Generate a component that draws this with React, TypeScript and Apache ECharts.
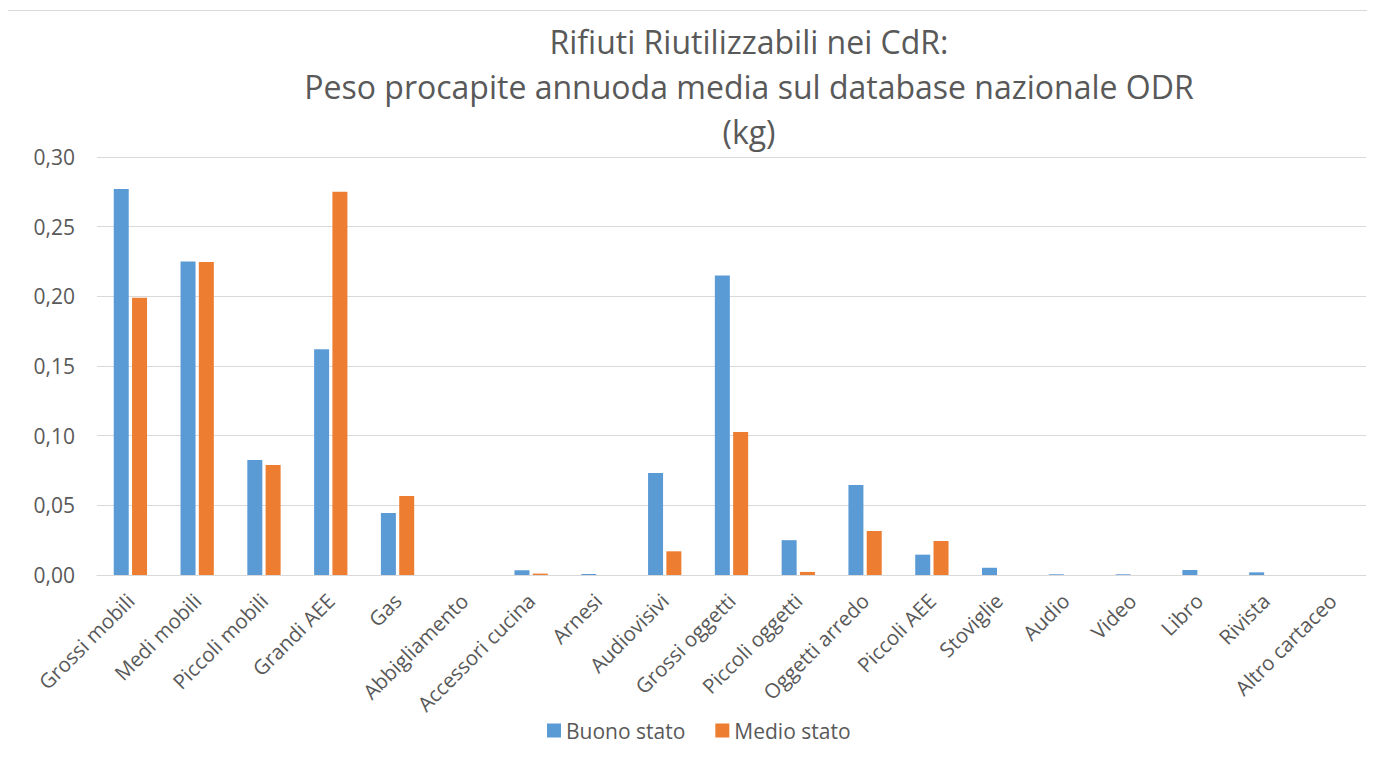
import React, { useEffect, useRef } from "react";
import * as echarts from "echarts";

const categories = [
  "Grossi mobili",
  "Medi mobili",
  "Piccoli mobili",
  "Grandi AEE",
  "Gas",
  "Abbigliamento",
  "Accessori cucina",
  "Arnesi",
  "Audiovisivi",
  "Grossi oggetti",
  "Piccoli oggetti",
  "Oggetti arredo",
  "Piccoli AEE",
  "Stoviglie",
  "Audio",
  "Video",
  "Libro",
  "Rivista",
  "Altro cartaceo",
];

const buonoStato = [
  0.277, 0.225, 0.0826, 0.162, 0.0445, 0, 0.0034, 0.0007, 0.0732, 0.215,
  0.025, 0.0646, 0.0146, 0.0052, 0.0005, 0.0005, 0.0036, 0.0019, 0,
];

const medioStato = [
  0.199, 0.2247, 0.079, 0.275, 0.0567, 0, 0.001, 0, 0.017, 0.1027, 0.0022,
  0.0316, 0.0244, 0, 0, 0, 0, 0, 0,
];

const titleLines = [
  "Rifiuti Riutilizzabili nei CdR:",
  "Peso procapite annuoda media sul database nazionale ODR",
  "(kg)",
];

const FONT = "'Open Sans', 'Noto Sans', sans-serif";
const TEXT = "#595959";

export default function App() {
  const ref = useRef<HTMLDivElement>(null);

  useEffect(() => {
    if (!ref.current) return;
    const chart = echarts.init(ref.current, null, { renderer: "svg" });
    chart.setOption({
      animation: false,
      textStyle: { fontFamily: FONT },
      title: {
        text: titleLines.join("\n"),
        left: 737,
        top: 6,
        textAlign: "center",
        textStyle: {
          fontFamily: FONT,
          fontSize: 32,
          fontWeight: "normal",
          color: TEXT,
          lineHeight: 45,
        },
      },
      graphic: [
        {
          type: "rect",
          shape: { x: 0.5, y: 2.5, width: 1360, height: 770 },
          style: { fill: "none", stroke: "#d9d9d9", lineWidth: 1 },
          silent: true,
        },
      ],
      legend: {
        data: ["Buono stato", "Medio stato"],
        left: 535,
        top: 707,
        itemWidth: 14,
        itemHeight: 14,
        itemGap: 30,
        icon: "rect",
        textStyle: { fontFamily: FONT, fontSize: 21, color: TEXT },
      },
      grid: { left: 90, right: 3, top: 149, bottom: 190 },
      xAxis: {
        type: "category",
        data: categories,
        axisLine: { lineStyle: { color: "#d9d9d9", width: 1 } },
        axisTick: { show: false },
        axisLabel: {
          rotate: 45,
          margin: 22,
          fontFamily: FONT,
          fontSize: 20.5,
          color: TEXT,
          interval: 0,
        },
      },
      yAxis: {
        type: "value",
        min: 0,
        max: 0.3,
        interval: 0.05,
        axisLine: { show: false },
        axisTick: { show: false },
        splitLine: { lineStyle: { color: "#d9d9d9", width: 1 } },
        axisLabel: {
          margin: 22,
          fontFamily: FONT,
          fontSize: 21,
          color: TEXT,
          formatter: (v: number) => v.toFixed(2).replace(".", ","),
        },
      },
      series: [
        {
          name: "Buono stato",
          type: "bar",
          data: buonoStato,
          barWidth: 15,
          barGap: "22%",
          itemStyle: { color: "#5B9BD5" },
        },
        {
          name: "Medio stato",
          type: "bar",
          data: medioStato,
          barWidth: 15,
          itemStyle: { color: "#ED7D31" },
        },
      ],
    });
    return () => chart.dispose();
  }, []);

  return (
    <div
      ref={ref}
      style={{ width: 1362, height: 757, marginLeft: -1 }}
    />
  );
}
